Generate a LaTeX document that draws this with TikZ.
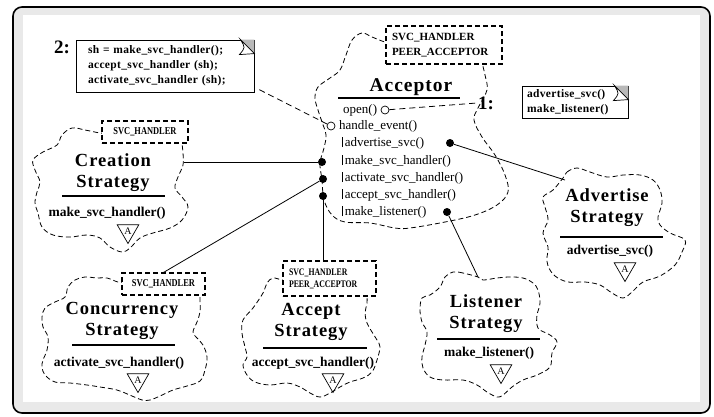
\documentclass[tikz,border=0pt]{standalone}
\usepackage{fontspec}
\usepackage{graphicx}
\setmainfont{Liberation Serif}
\newfontfamily\titlefont[LetterSpace=5]{Liberation Serif}
\newfontfamily\notefont[LetterSpace=3]{Liberation Serif}
\usetikzlibrary{calc,shapes.geometric}
\begin{document}
\begin{tikzpicture}[x=1pt,y=-1pt,
  cloud/.style={line width=0.8pt, dash pattern=on 5pt off 3pt},
  tmplbox/.style={draw, fill=white, line width=1.1pt, dash pattern=on 5pt off 3pt,
    inner sep=0pt, align=center, font=\bfseries\fontsize{10.5}{12}\selectfont},
  notebox/.style={draw, fill=white, line width=0.8pt, inner sep=0pt, align=left,
    font=\notefont\bfseries\fontsize{11.5}{15}\selectfont},
  title/.style={align=center, font=\titlefont\bfseries\fontsize{18.5}{21}\selectfont},
  meth/.style={anchor=west, inner sep=0pt, font=\fontsize{13}{14}\selectfont},
  smeth/.style={inner sep=0pt, font=\bfseries\fontsize{13.5}{14}\selectfont},
  abs/.style={draw, regular polygon, regular polygon sides=3, shape border rotate=180,
    minimum size=25pt, inner sep=0pt, line width=0.7pt, font=\fontsize{10}{10}\selectfont},
  rulel/.style={line width=1.1pt},
  link/.style={line width=0.8pt},
  dashlink/.style={line width=0.8pt, dash pattern=on 6pt off 4pt},
  dot/.style={circle, fill=black, inner sep=0pt, minimum size=8pt},
  port/.style={circle, draw, fill=white, inner sep=0pt, minimum size=8pt, line width=0.7pt},
  lbl/.style={font=\bfseries\fontsize{19}{19}\selectfont, inner sep=1pt}]
\newcommand{\mbar}{\rule[-1pt]{0.6pt}{10pt}\hspace{2pt}}
\newcommand{\foldcorner}[1]{%
  \fill[gray!55] ($(#1)+(-14,0)$) -- (#1) -- ($(#1)+(0,14)$) -- cycle;
  \draw[fill=white, line width=0.7pt] ($(#1)+(-14,0)$) .. controls ($(#1)+(-9,8)$) ..
    ($(#1)+(-15,15)$) -- ($(#1)+(0,14)$) -- cycle;}
\useasboundingbox (0,0) rectangle (714,416);

% frame
\fill[gray!17, rounded corners=9pt] (13,7) rectangle (710,413);
\fill[white] (23,15) rectangle (700,402);
\draw[line width=1.6pt, rounded corners=9pt] (13,7) rectangle (710,413);

% clouds
\draw[cloud] plot[smooth, tension=0.6] coordinates {(392,42) (385,42) (372,37) (362,33) (352,40)
  (346,55) (340,70) (330,78) (318,87) (315,98) (318,110) (322,122) (326,135) (324,148)
  (320,163) (322,180) (324,200) (332,215) (345,222) (370,223) (395,228) (410,228) (445,222)
  (475,215) (497,205) (508,192) (505,175) (495,155) (482,137) (474,120) (478,108) (487,90)
  (485,75) (482,62) (482,56)};
\draw[cloud] plot[smooth, tension=0.6] coordinates {(106,133) (100,133) (85,130) (72,128)
  (62,135) (57,145) (43,152) (33,160) (35,170) (40,182) (37,192) (35,203) (38,213) (42,227)
  (53,235) (70,237) (87,235) (100,238) (110,247) (122,252) (130,248) (140,238) (153,233)
  (170,228) (182,220) (188,207) (182,197) (175,188) (178,177) (183,165) (183,153) (182,143)
  (182,138)};
\draw[cloud] plot[smooth, tension=0.6] coordinates {(126,282) (118,282) (107,278) (97,278)
  (85,277) (75,280) (68,287) (65,297) (55,302) (45,308) (42,317) (43,327) (48,337) (47,350)
  (43,360) (42,367) (45,375) (55,382) (70,383) (87,385) (100,387) (117,390) (132,396)
  (142,400) (150,400) (160,396) (173,390) (187,386) (200,381) (205,370) (207,357) (203,345)
  (197,338) (193,332) (197,322) (200,312) (200,300) (200,290)};
\draw[cloud] plot[smooth, tension=0.6] coordinates {(287,280) (282,280) (273,278) (267,283)
  (263,293) (253,308) (243,320) (242,333) (245,347) (247,357) (243,365) (247,375) (255,382)
  (270,385) (287,383) (300,387) (310,393) (320,397) (330,393) (340,387) (350,382) (363,378)
  (372,372) (377,360) (380,347) (377,340) (372,332) (367,323) (365,313) (367,303) (367,292)};
\draw[cloud] plot[smooth cycle, tension=0.6] coordinates {(478,277) (463,273) (453,272)
  (445,277) (440,287) (430,295) (422,298) (420,310) (422,322) (427,332) (425,345) (422,357)
  (423,368) (430,377) (443,380) (463,380) (477,385) (487,392) (497,397) (503,395) (512,387)
  (523,380) (537,375) (550,367) (552,353) (557,342) (550,335) (540,330) (537,325) (537,315)
  (540,303) (538,290) (533,283) (523,278) (510,277) (497,278) (483,280)};
\draw[cloud] plot[smooth cycle, tension=0.6] coordinates {(563,178) (567,172) (577,168)
  (590,172) (607,177) (623,175) (640,175) (653,180) (660,190) (662,203) (658,217) (660,225)
  (670,233) (685,240) (682,252) (675,265) (660,276) (643,282) (632,292) (623,298) (612,293)
  (600,285) (585,282) (568,282) (555,276) (548,266) (547,257) (548,247) (543,233) (548,220)
  (545,207) (543,197) (553,190)};

% template boxes
\node[tmplbox, minimum width=116pt, minimum height=38pt, align=left, text width=104pt,
  font=\bfseries\fontsize{11}{15}\selectfont]
  (acBox) at (444,45) {SVC\_HANDLER\\PEER\_ACCEPTOR};
\node[tmplbox, minimum width=86pt, minimum height=22pt] (crBox) at (145,132)
  {\scalebox{0.8}[1]{SVC\_HANDLER}};
\node[tmplbox, minimum width=83pt, minimum height=22pt] (coBox) at (163.5,284)
  {\scalebox{0.8}[1]{SVC\_HANDLER}};
\node[tmplbox, minimum width=93pt, minimum height=35pt, align=left, text width=81pt,
  font=\bfseries\fontsize{10}{12}\selectfont]
  (apBox) at (329.5,278.5) {\scalebox{0.78}[1]{SVC\_HANDLER}\\\scalebox{0.78}[1]{PEER\_ACCEPTOR}};

% Acceptor
\node[title, font=\titlefont\bfseries\fontsize{19.5}{21}\selectfont] (acTitle) at (411,87) {Acceptor};
\draw[rulel] (338,98) -- (460,98);
\node[meth] (mOpen) at (343,110) {open()};
\node[port] (pOpen) at (385,110) {};
\node[meth] (mHandle) at (339,126) {handle\_event()};
\node[port] (pHandle) at (331,126) {};
\node[meth] (mAdv) at (342,143) {\mbar advertise\_svc()};
\node[dot] (dAdv) at (450,143) {};
\node[meth] (mMake) at (342,161) {\mbar make\_svc\_handler()};
\node[dot] (dMake) at (322,162) {};
\node[meth] (mAct) at (342,178) {\mbar activate\_svc\_handler()};
\node[dot] (dAct) at (323,179) {};
\node[meth] (mAcc) at (342,195) {\mbar accept\_svc\_handler()};
\node[dot] (dAcc) at (323,196) {};
\node[meth] (mLis) at (342,212) {\mbar make\_listener()};
\node[dot] (dLis) at (447,212) {};

% Creation Strategy
\node[title] (crTitle) at (113,173) {Creation\\Strategy};
\draw[rulel] (62,196) -- (165,196);
\node[smeth] (crMeth) at (107,213) {make\_svc\_handler()};
\node[abs] (crAbs) at (128,231) {A};

% Concurrency Strategy
\node[title] (coTitle) at (122,321) {Concurrency\\Strategy};
\draw[rulel] (72,345) -- (175,345);
\node[smeth] (coMeth) at (119,363) {activate\_svc\_handler()};
\node[abs] (coAbs) at (138,380) {A};

% Accept Strategy
\node[title] (apTitle) at (311,322) {Accept\\Strategy};
\draw[rulel] (263,348) -- (367,348);
\node[smeth] (apMeth) at (313,363) {accept\_svc\_handler()};
\node[abs] (apAbs) at (333,380) {A};

% Listener Strategy
\node[title] (liTitle) at (486,314) {Listener\\Strategy};
\draw[rulel] (437,339) -- (540,339);
\node[smeth] (liMeth) at (489,353) {make\_listener()};
\node[abs] (liAbs) at (501,371) {A};

% Advertise Strategy
\node[title] (adTitle) at (607,208) {Advertise\\Strategy};
\draw[rulel] (560,237) -- (663,237);
\node[smeth] (adMeth) at (610,251) {advertise\_svc()};
\node[abs] (adAbs) at (625,269) {A};

% notes
\node[lbl] (lbl2) at (62,47) {2:};
\node[notebox, minimum width=178pt, minimum height=52pt, text width=154pt] (note2) at (165,66)
  {sh = make\_svc\_handler();\\accept\_svc\_handler (sh);\\activate\_svc\_handler (sh);};
\foldcorner{note2.north east}
\node[lbl] (lbl1) at (486,103) {1:};
\node[notebox, minimum width=106pt, minimum height=32pt, text width=96pt] (note1) at (575,102)
  {advertise\_svc()\\make\_listener()};
\foldcorner{note1.north east}

% connectors
\coordinate (n2out) at (256,88);
\coordinate (crLink) at (184,162);
\coordinate (adLink) at (565,180);
\coordinate (liLink) at (478,277);
\draw[dashlink] (pHandle) -- (n2out);
\draw[dashlink] (pOpen) -- (lbl1.west);
\draw[link] (dMake) -- (crLink);
\draw[link] (dAct) -- (coBox.north);
\draw[link] (dAcc) -- (dAcc |- apBox.north);
\draw[link] (dAdv) -- (adLink);
\draw[link] (dLis) -- (liLink);
\end{tikzpicture}
\end{document}
